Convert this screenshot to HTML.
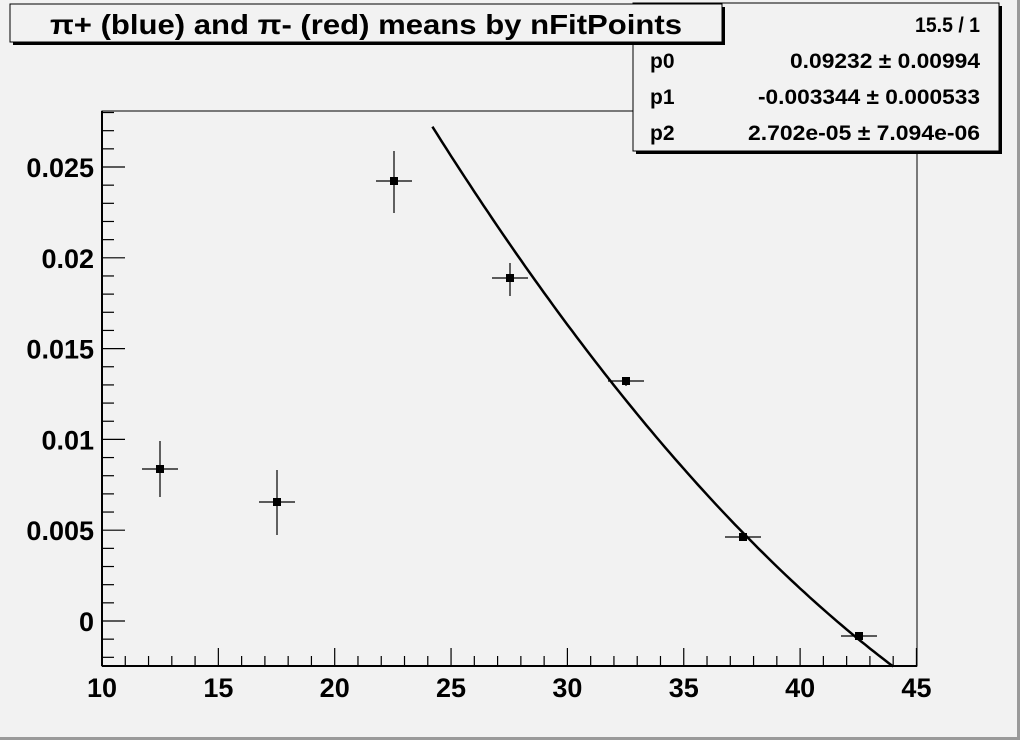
<!DOCTYPE html>
<html><head><style>
body{margin:0;background:#f2f2f2;}
svg{display:block;font-family:"Liberation Sans",Arial,sans-serif;font-weight:bold;}
</style></head><body>
<svg width="1020" height="740" xmlns="http://www.w3.org/2000/svg">
<rect x="0" y="0" width="1020" height="740" fill="#f2f2f2"/>
<line x1="0" y1="738.5" x2="1020" y2="738.5" stroke="#9a9a9a" stroke-width="3"/>
<line x1="1018.5" y1="0" x2="1018.5" y2="740" stroke="#9a9a9a" stroke-width="3"/>
<rect x="102" y="111" width="815" height="555" fill="none" stroke="#000" stroke-width="1"/>
<line x1="102" y1="666" x2="917" y2="666" stroke="#000" stroke-width="2"/>
<line x1="102" y1="111" x2="102" y2="666" stroke="#000" stroke-width="2"/>
<g stroke="#000" stroke-width="1.2" id="ticks"></g>
<g font-size="27" text-anchor="middle" id="xl"></g>
<g font-size="27" text-anchor="end" id="yl"></g>
<polyline id="fit" fill="none" stroke="#000" stroke-width="2.5"/>
<g id="pts" stroke="#000" stroke-width="1.2"></g>
<rect x="636" y="6" width="366" height="148" fill="#000"/>
<rect x="633" y="3" width="366" height="148" fill="#f2f2f2" stroke="#000"/>
<rect x="13" y="7" width="712" height="38" fill="#000"/>
<rect x="10" y="4" width="712" height="38" fill="#f2f2f2" stroke="#000"/>
<text x="50" y="34" font-size="28" textLength="632" lengthAdjust="spacingAndGlyphs">π+ (blue) and π- (red) means by nFitPoints</text>
<g font-size="21">
<text x="980" y="32" text-anchor="end" textLength="65" lengthAdjust="spacingAndGlyphs">15.5 / 1</text>
<text x="650" y="68">p0</text><text x="980" y="68" text-anchor="end" textLength="190" lengthAdjust="spacingAndGlyphs">0.09232 ± 0.00994</text>
<text x="650" y="104">p1</text><text x="980" y="104" text-anchor="end" textLength="222" lengthAdjust="spacingAndGlyphs">-0.003344 ± 0.000533</text>
<text x="650" y="140">p2</text><text x="980" y="140" text-anchor="end" textLength="232" lengthAdjust="spacingAndGlyphs">2.702e-05 ± 7.094e-06</text>
</g>
</svg>
<script>
var ns="http://www.w3.org/2000/svg";
function el(p,t,a,txt){var e=document.createElementNS(ns,t);for(var k in a)e.setAttribute(k,a[k]);if(txt!=null)e.textContent=txt;document.getElementById(p).appendChild(e);}
function X(v){return 102+(v-10)*23.27;}
function Y(v){return 621-v*18160;}
for(var i=10;i<=45;i++){var maj=i%5==0;el("ticks","line",{x1:X(i),x2:X(i),y1:666,y2:666-(maj?18:10)});if(maj)el("xl","text",{x:X(i),y:697},String(i));}
for(var j=-2;j<=28;j++){var v=j*0.001;var maj=j%5==0;el("ticks","line",{x1:102,x2:102+(maj?23:12),y1:Y(v),y2:Y(v)});}
var yl=["0","0.005","0.01","0.015","0.02","0.025"];
for(var j=0;j<6;j++)el("yl","text",{x:94,y:Y(j*0.005)+10},yl[j]);
var p="";for(var x=24.2;x<=44.01;x+=0.2){var y=0.09232-0.003344*x+2.702e-5*x*x;p+=X(x).toFixed(1)+","+Y(y).toFixed(1)+" ";}
document.getElementById("fit").setAttribute("points",p);
var pts=[[160,469,441,497],[277,502,470,535],[394,181,151,213],[510,278,263,296],[626,381,377,386],[743,537,535,539],[859,636,634,638]];
pts.forEach(function(q){el("pts","line",{x1:q[0]-18,x2:q[0]+18,y1:q[1],y2:q[1]});el("pts","line",{x1:q[0],x2:q[0],y1:q[2],y2:q[3]});el("pts","rect",{x:q[0]-4,y:q[1]-4,width:8,height:8,fill:"#000",stroke:"none"});});
</script>
</body></html>
